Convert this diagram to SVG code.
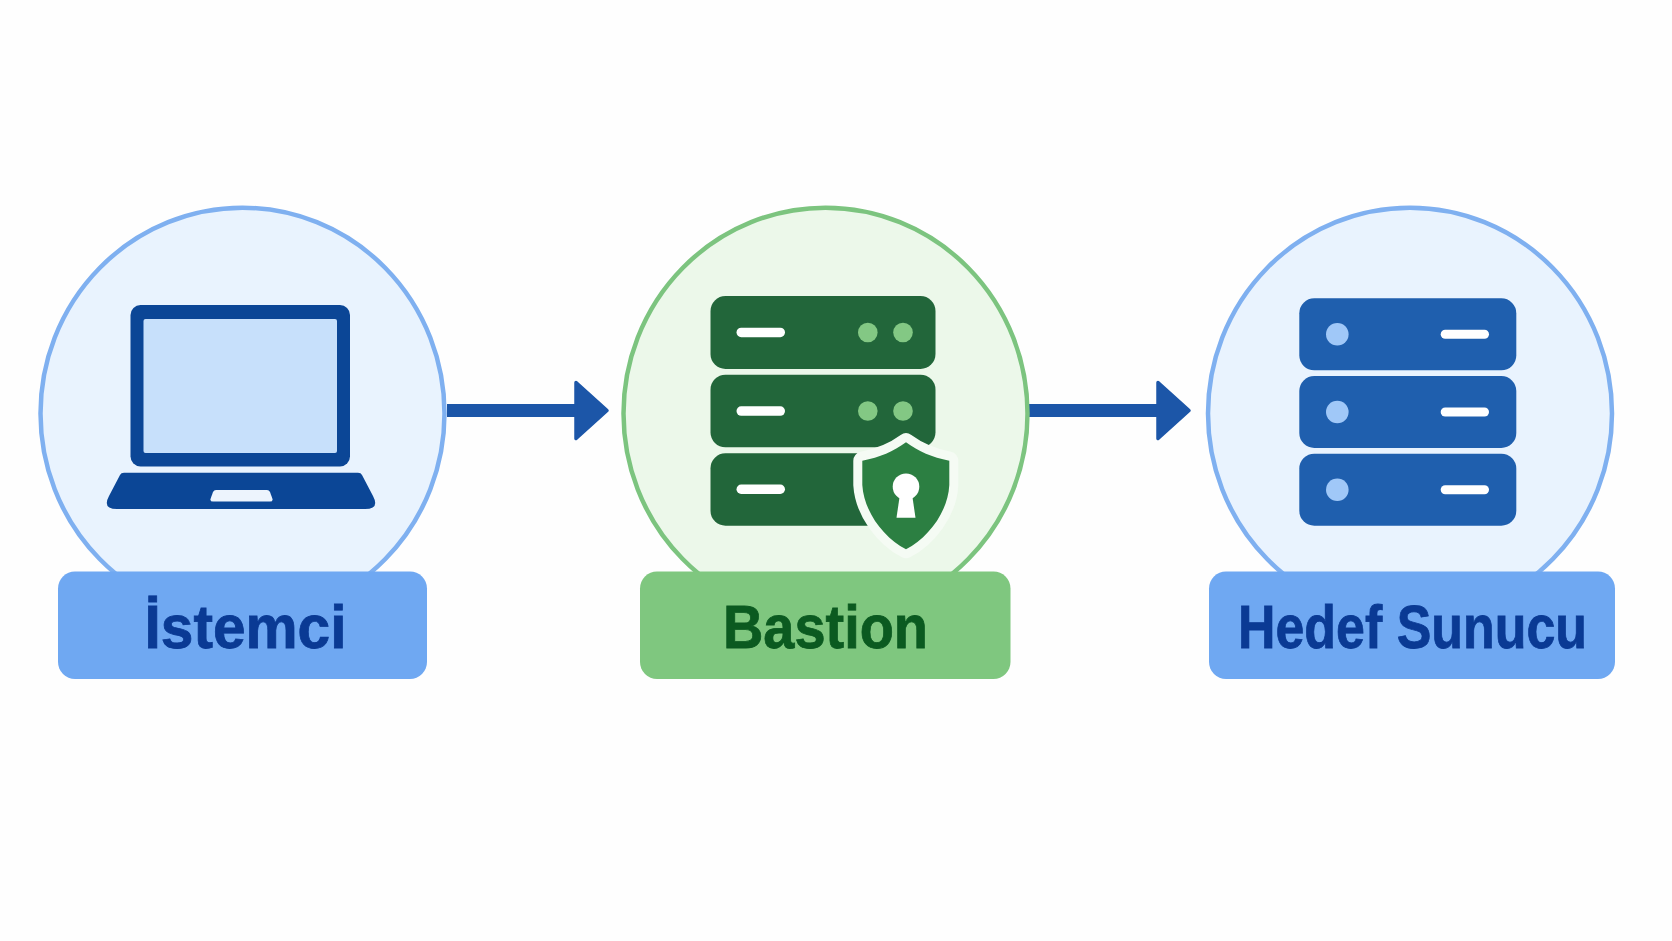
<svg xmlns="http://www.w3.org/2000/svg" width="1672" height="941" viewBox="0 0 1672 941">
<style>
.disc-b{fill:#E9F3FE;stroke:#7FB0F0;stroke-width:4.500}
.disc-g{fill:#ECF8EA;stroke:#7CC47F;stroke-width:4.500}
.lab-b{fill:#6FA8F2}
.lab-g{fill:#7FC77F}
.t{font-family:"Liberation Sans",Arial,sans-serif;font-weight:700;font-size:61.5px;text-anchor:start;stroke-width:0.800}
.t-b{fill:#0A3A94;stroke:#0A3A94}
.t-g{fill:#0B5A20;stroke:#0B5A20}
.srv-g{fill:#22663A}
.srv-b{fill:#1F5FAE}
.slot{fill:#FFFFFF}
.led-g{fill:#83C884}
.led-b{fill:#A0C8F8}
.conn{stroke:#1C56A8;stroke-width:13;fill:none;marker-end:url(#head)}
</style>
<defs>
<marker id="head" markerUnits="userSpaceOnUse" markerWidth="36" markerHeight="62" viewBox="0 0 36 62" refX="1" refY="31" orient="auto" overflow="visible">
<path d="M2 3 L33 31 L2 59 Z" fill="#1C56A8" stroke="#1C56A8" stroke-width="3.500" stroke-linejoin="round"/>
</marker>
</defs>
<rect width="1672" height="941" fill="#FEFEFE"/>
<g id="connectors">
<line class="conn" x1="447" y1="410.500" x2="575" y2="410.500"/>
<line class="conn" x1="1029" y1="410.500" x2="1157" y2="410.500"/>
</g>
<g id="node-istemci">
<ellipse class="disc-b" cx="242.500" cy="413.500" rx="202" ry="205.800"/>
<rect x="130.500" y="305" width="219.500" height="161.500" rx="10" fill="#0B4696"/>
<rect x="143.500" y="319" width="193.500" height="134" rx="2" fill="#C7E0FB"/>
<path d="M124 472.700 H358 Q361 472.700 362 475 L373 496 Q380 509 365 509 H117 Q102 509 109 496 L120 475 Q121 472.700 124 472.700 Z" fill="#0B4696"/>
<path d="M216 490 H267 Q269 490 270 492 L272.500 499 Q273 501.500 270 501.500 H213 Q210 501.500 210.500 499 L213 492 Q214 490 216 490 Z" fill="#EDF4FD"/>
<rect class="lab-b" x="58" y="571.500" width="369" height="107.500" rx="17"/>
<text class="t t-b" x="144.500" y="647.500" textLength="202" lengthAdjust="spacingAndGlyphs">İstemci</text>
</g>
<g id="node-bastion">
<ellipse class="disc-g" cx="825.500" cy="413.500" rx="202" ry="205.800"/>
<rect class="srv-g" x="710.500" y="296" width="225" height="73" rx="15"/>
<rect class="srv-g" x="710.500" y="374.700" width="225" height="72.600" rx="15"/>
<rect class="srv-g" x="710.500" y="453.300" width="225" height="72.400" rx="15"/>
<rect class="slot" x="736.500" y="327.700" width="48.500" height="9.500" rx="4.700"/>
<rect class="slot" x="736.500" y="406.300" width="48.500" height="9.500" rx="4.700"/>
<rect class="slot" x="736.500" y="484.500" width="48.500" height="9.500" rx="4.700"/>
<circle class="led-g" cx="867.800" cy="332.500" r="9.800"/>
<circle class="led-g" cx="903" cy="332.500" r="9.800"/>
<circle class="led-g" cx="867.800" cy="411" r="9.800"/>
<circle class="led-g" cx="903" cy="411" r="9.800"/>
<path d="M906 442.300 C893.300 451.700 880 457.300 862.300 460.700 L862.300 485 C864 512 884 538 906 549.300 C928 538 948 512 949.300 485 L949.300 460.700 C932 457.300 918.700 451.700 906 442.300 Z" fill="#2C7F42" stroke="#F5FBF4" stroke-width="18" stroke-linejoin="round" paint-order="stroke"/>
<circle cx="906" cy="486.700" r="13.300" fill="#FFFFFF"/>
<path d="M900 494 H912 L915.500 517.700 H896.500 Z" fill="#FFFFFF"/>
<rect class="lab-g" x="640" y="571.500" width="370.500" height="107.500" rx="17"/>
<text class="t t-g" x="723" y="647.500" textLength="205" lengthAdjust="spacingAndGlyphs">Bastion</text>
</g>
<g id="node-hedef">
<ellipse class="disc-b" cx="1410" cy="413.500" rx="202" ry="205.800"/>
<rect class="srv-b" x="1299.300" y="298.300" width="217" height="72" rx="15"/>
<rect class="srv-b" x="1299.300" y="376" width="217" height="72" rx="15"/>
<rect class="srv-b" x="1299.300" y="453.700" width="217" height="72" rx="15"/>
<circle class="led-b" cx="1337.300" cy="334.300" r="11.300"/>
<circle class="led-b" cx="1337.300" cy="412" r="11.300"/>
<circle class="led-b" cx="1337.300" cy="489.700" r="11.300"/>
<rect class="slot" x="1440.700" y="329.800" width="48.300" height="9" rx="4.500"/>
<rect class="slot" x="1440.700" y="407.500" width="48.300" height="9" rx="4.500"/>
<rect class="slot" x="1440.700" y="485.200" width="48.300" height="9" rx="4.500"/>
<rect class="lab-b" x="1209" y="571.500" width="406" height="107.500" rx="17"/>
<text class="t t-b" x="1238" y="647.500" textLength="349" lengthAdjust="spacingAndGlyphs">Hedef Sunucu</text>
</g>
</svg>
